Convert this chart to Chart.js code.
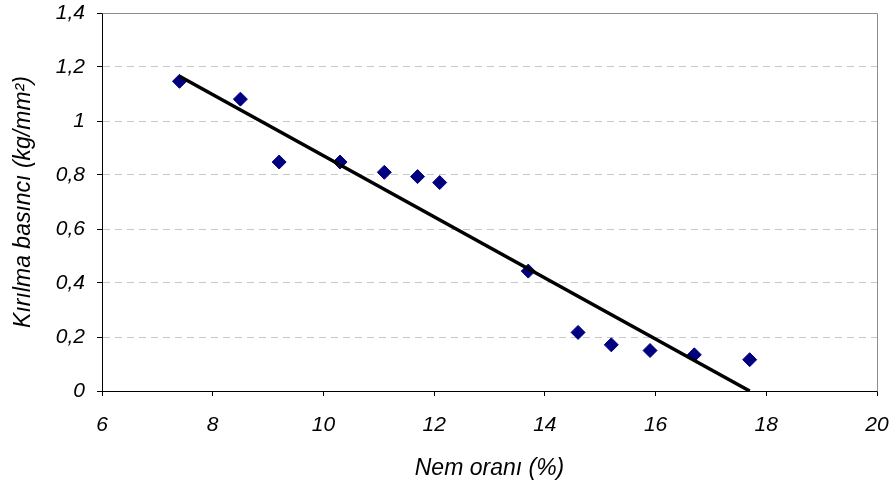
<!DOCTYPE html>
<html>
<head>
<meta charset="utf-8">
<script src="https://cdn.jsdelivr.net/npm/chart.js@4/dist/chart.umd.min.js"></script>
<style>
  html, body { margin: 0; padding: 0; background: #ffffff; }
  #wrap { width: 895px; height: 485px; position: relative; }
</style>
</head>
<body>
<div id="wrap"><canvas id="c" width="895" height="485"></canvas></div>
<script>
// Measured data
const nemOrani = [7.4, 8.5, 9.2, 10.3, 11.1, 11.7, 12.1, 13.7, 14.6, 15.2, 15.9, 16.7, 17.7];
const kirilmaBasinci = [1.147, 1.081, 0.848, 0.848, 0.810, 0.794, 0.772, 0.444, 0.217, 0.171, 0.150, 0.134, 0.116];
// Linear trend line end points
const trendX = [7.4, 17.7];
const trendY = [1.166, 0.0];
// Tick labels
const xTickValues = [6, 8, 10, 12, 14, 16, 18, 20];
const xTickLabels = ['6', '8', '10', '12', '14', '16', '18', '20'];
const yTickValues = [0, 0.2, 0.4, 0.6, 0.8, 1.0, 1.2, 1.4];
const yTickLabels = ['0', '0,2', '0,4', '0,6', '0,8', '1', '1,2', '1,4'];
const xTitle = 'Nem oranı (%)';
const yTitle = 'Kırılma basıncı (kg/mm²)';

const points = nemOrani.map((x, i) => ({ x: x, y: kirilmaBasinci[i] }));
const trend = trendX.map((x, i) => ({ x: x, y: trendY[i] }));

function labelFor(values, labels, v) {
  for (let i = 0; i < values.length; i++) {
    if (Math.abs(values[i] - v) < 1e-6) return labels[i];
  }
  return '';
}

const frame = {
  id: 'frame',
  beforeDatasetsDraw(chart) {
    const a = chart.chartArea;
    const ctx = chart.ctx;
    ctx.save();
    ctx.strokeStyle = '#8c8c8c';
    ctx.lineWidth = 1;
    ctx.beginPath();
    ctx.moveTo(Math.round(a.left) + 0.5, Math.round(a.top) + 0.5);
    ctx.lineTo(Math.round(a.right) + 0.5, Math.round(a.top) + 0.5);
    ctx.lineTo(Math.round(a.right) + 0.5, Math.round(a.bottom) + 0.5);
    ctx.stroke();
    ctx.restore();
  }
};

const tickFont = { family: '"Liberation Sans", Arial, sans-serif', size: 21, style: 'italic' };
const titleFont = { family: '"Liberation Sans", Arial, sans-serif', size: 23, style: 'italic' };

new Chart(document.getElementById('c'), {
  type: 'scatter',
  data: {
    datasets: [
      {
        type: 'line',
        label: 'trend',
        data: trend,
        borderColor: '#000000',
        borderWidth: 3.5,
        pointRadius: 0,
        fill: false,
        tension: 0,
        order: 0
      },
      {
        label: 'data',
        data: points,
        pointStyle: 'rectRot',
        pointRadius: 7,
        pointHoverRadius: 7,
        backgroundColor: '#000080',
        borderColor: '#000080',
        borderWidth: 1,
        order: 1
      }
    ]
  },
  options: {
    responsive: false,
    animation: false,
    devicePixelRatio: 1,
    layout: { padding: { top: 13, right: 18, left: 0, bottom: 0 } },
    plugins: { legend: { display: false }, tooltip: { enabled: false }, title: { display: false } },
    scales: {
      x: {
        type: 'linear',
        min: 6, max: 20,
        afterBuildTicks(scale) { scale.ticks = xTickValues.map(v => ({ value: v })); },
        afterFit(scale) {
          scale.height = 94;
          scale.paddingLeft = 0; scale.paddingRight = 0;
        },
        ticks: {
          color: '#000000',
          font: tickFont,
          padding: 17,
          maxRotation: 0,
          autoSkip: false,
          callback: (v) => labelFor(xTickValues, xTickLabels, v)
        },
        grid: { drawOnChartArea: false, drawTicks: true, tickLength: 5, tickColor: '#000000', color: '#000000' },
        border: { display: true, color: '#000000', width: 1 },
        title: { display: true, text: xTitle, color: '#000000', font: titleFont, padding: { top: 0, bottom: 3 } }
      },
      y: {
        type: 'linear',
        min: 0, max: 1.4,
        afterBuildTicks(scale) { scale.ticks = yTickValues.map(v => ({ value: v })); },
        afterFit(scale) {
          scale.width = 102;
          scale.paddingTop = 0; scale.paddingBottom = 0;
        },
        ticks: {
          color: '#000000',
          font: tickFont,
          padding: 12,
          autoSkip: false,
          callback: (v) => labelFor(yTickValues, yTickLabels, v)
        },
        grid: {
          drawOnChartArea: true,
          drawTicks: true,
          tickLength: 5,
          tickColor: '#000000',
          lineWidth: 1,
          color: (ctx) => {
            const v = ctx.tick ? ctx.tick.value : null;
            if (v === null || Math.abs(v) < 1e-6 || Math.abs(v - 1.4) < 1e-6) return 'rgba(0,0,0,0)';
            return '#c8c8c8';
          }
        },
        border: { display: true, color: '#000000', width: 1, dash: [7, 5] },
        title: { display: true, text: yTitle, color: '#000000', font: titleFont, padding: { top: 10, bottom: 0 } }
      }
    }
  },
  plugins: [frame]
});
</script>
</body>
</html>
